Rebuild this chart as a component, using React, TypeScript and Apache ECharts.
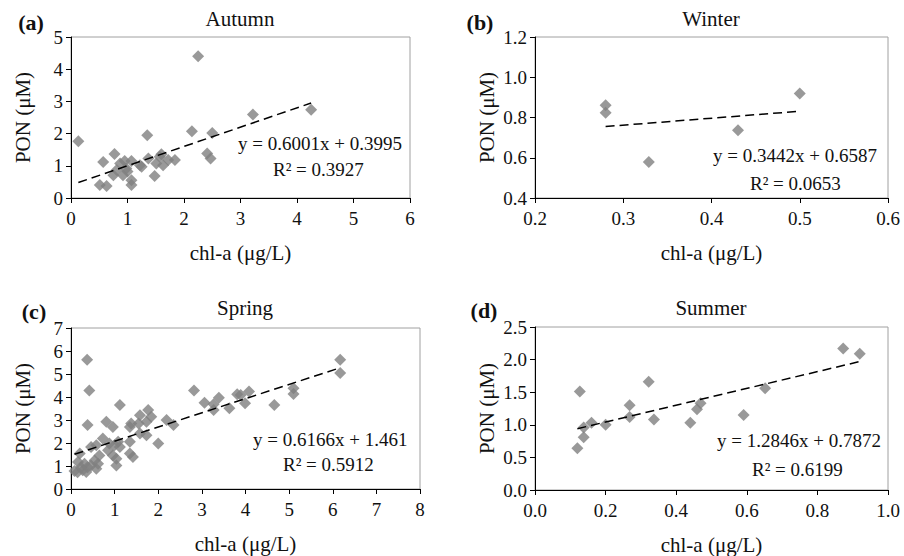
import React, { useEffect, useRef } from "react";
import * as echarts from "echarts";

const FONT = "'Liberation Serif', 'Times New Roman', serif";

// Autumn (a)
const autumnPoints: number[][] = [
  [0.13, 1.76], [0.51, 0.40], [0.57, 1.12], [0.63, 0.37], [0.75, 0.71], [0.77, 1.37],
  [0.81, 0.87], [0.87, 1.07], [0.92, 0.71], [0.95, 1.15], [0.98, 0.92], [1.0, 0.82],
  [1.07, 1.15], [1.07, 0.55], [1.07, 0.4], [1.22, 1.02], [1.25, 0.97], [1.35, 1.95],
  [1.37, 1.23], [1.48, 0.68], [1.51, 1.07], [1.57, 1.28], [1.6, 1.36], [1.63, 1.02],
  [1.72, 1.18], [1.84, 1.18], [2.14, 2.07], [2.25, 4.4], [2.41, 1.38], [2.47, 1.23],
  [2.5, 2.02], [3.22, 2.59], [4.25, 2.74],
];
const autumnTrend: number[][] = [[0.13, 0.48], [4.25, 2.95]];

// Winter (b)
const winterPoints: number[][] = [
  [0.28, 0.861], [0.28, 0.823], [0.329, 0.579], [0.43, 0.737], [0.5, 0.919],
];
const winterTrend: number[][] = [[0.28, 0.755], [0.5, 0.831]];

// Spring (c)
const springPoints: number[][] = [
  [0.08, 0.78], [0.15, 0.73], [0.16, 1.17], [0.2, 1.54], [0.23, 0.95], [0.27, 0.81],
  [0.31, 1.1], [0.35, 0.74], [0.37, 5.62], [0.38, 0.95], [0.38, 2.78], [0.42, 4.28],
  [0.46, 1.02], [0.46, 1.83], [0.54, 1.24], [0.58, 0.88], [0.58, 1.9], [0.62, 1.1],
  [0.65, 1.46], [0.73, 2.2], [0.81, 2.92], [0.85, 1.68], [0.88, 1.98], [0.96, 2.7],
  [0.96, 1.46], [1.0, 1.9], [1.04, 1.31], [1.04, 1.02], [1.08, 2.05], [1.12, 1.83],
  [1.12, 3.65], [1.35, 2.05], [1.35, 2.7], [1.35, 1.54], [1.38, 2.85], [1.42, 1.39],
  [1.55, 2.85], [1.58, 3.21], [1.58, 2.41], [1.73, 2.92], [1.73, 2.34], [1.77, 3.43],
  [1.84, 3.14], [2.0, 1.98], [2.19, 3.0], [2.35, 2.78], [2.82, 4.28], [3.06, 3.75],
  [3.27, 3.68], [3.27, 3.43], [3.39, 3.97], [3.63, 3.51], [3.81, 4.12], [3.89, 4.09],
  [3.99, 3.73], [4.08, 4.24], [4.66, 3.65], [5.1, 4.38], [5.1, 4.13], [6.17, 5.62],
  [6.17, 5.04],
];
const springTrend: number[][] = [[0.08, 1.51], [6.17, 5.27]];

// Summer (d)
const summerPoints: number[][] = [
  [0.12, 0.64], [0.127, 1.51], [0.138, 0.81], [0.138, 0.96], [0.16, 1.03], [0.2, 1.0],
  [0.268, 1.3], [0.268, 1.12], [0.322, 1.66], [0.337, 1.08], [0.44, 1.03], [0.459, 1.24],
  [0.469, 1.33], [0.591, 1.15], [0.652, 1.56], [0.873, 2.17], [0.92, 2.09],
];
const summerTrend: number[][] = [[0.12, 0.94], [0.92, 1.97]];

const titles = ["Autumn", "Winter", "Spring", "Summer"];
const panelLabels = ["(a)", "(b)", "(c)", "(d)"];
const equations = [
  "y = 0.6001x + 0.3995",
  "y = 0.3442x + 0.6587",
  "y = 0.6166x + 1.461",
  "y = 1.2846x + 0.7872",
];
const rSquared = ["R² = 0.3927", "R² = 0.0653", "R² = 0.5912", "R² = 0.6199"];

const xRanges = [
  { min: 0, max: 6, interval: 1, dec: 0 },
  { min: 0.2, max: 0.6, interval: 0.1, dec: 1 },
  { min: 0, max: 8, interval: 1, dec: 0 },
  { min: 0, max: 1, interval: 0.2, dec: 1 },
];
const yRanges = [
  { min: 0, max: 5, interval: 1, dec: 0 },
  { min: 0.4, max: 1.2, interval: 0.2, dec: 1 },
  { min: 0, max: 7, interval: 1, dec: 0 },
  { min: 0, max: 2.5, interval: 0.5, dec: 1 },
];

const grids = [
  { left: 71, top: 37, width: 339, height: 161 },
  { left: 535, top: 37, width: 353, height: 161 },
  { left: 71, top: 328, width: 349, height: 161 },
  { left: 535, top: 327, width: 353, height: 164 },
];

// layout positions for texts
const titlePos = [[240, 19], [711, 19], [245, 308], [711, 308]];
const labelPos = [[31, 22], [480, 22], [34, 311], [484, 310]];
const eqPos = [[238, 143], [713, 155], [253, 439], [717, 440]];
const r2Pos = [[273, 169], [750, 183], [283, 464], [752, 469]];

export default function App() {
  const ref = useRef<HTMLDivElement>(null);
  useEffect(() => {
    if (!ref.current) return;
    const chart = echarts.init(ref.current, undefined, { renderer: "svg" });
    const pts = [autumnPoints, winterPoints, springPoints, summerPoints];
    const trends = [autumnTrend, winterTrend, springTrend, summerTrend];

    const xAxis = xRanges.map((r, i) => ({
      type: "value",
      gridIndex: i,
      min: r.min,
      max: r.max,
      interval: r.interval,
      name: "chl-a (μg/L)",
      nameLocation: "middle",
      nameGap: 44,
      nameTextStyle: { fontFamily: FONT, fontSize: 21, color: "#111" },
      axisLine: { show: true, onZero: false, lineStyle: { color: "#000", width: 1 } },
      axisTick: { show: true, inside: false, length: 5, lineStyle: { color: "#000" } },
      axisLabel: {
        fontFamily: FONT,
        fontSize: 19,
        color: "#111",
        margin: 11,
        formatter: (v: number) => v.toFixed(r.dec),
      },
      splitLine: { show: false },
    }));
    const yAxis = yRanges.map((r, i) => ({
      type: "value",
      gridIndex: i,
      min: r.min,
      max: r.max,
      interval: r.interval,
      name: "PON (μM)",
      nameLocation: "middle",
      nameGap: 38,
      nameTextStyle: { fontFamily: FONT, fontSize: 21, color: "#111" },
      axisLine: { show: true, onZero: false, lineStyle: { color: "#000", width: 1 } },
      axisTick: { show: true, inside: false, length: 5, lineStyle: { color: "#000" } },
      axisLabel: {
        fontFamily: FONT,
        fontSize: 19,
        color: "#111",
        margin: 8,
        formatter: (v: number) => v.toFixed(r.dec),
      },
      splitLine: { show: false },
    }));

    const series: any[] = [];
    pts.forEach((p, i) => {
      series.push({
        type: "scatter",
        xAxisIndex: i,
        yAxisIndex: i,
        data: p,
        symbol: "diamond",
        symbolSize: 12,
        itemStyle: { color: "#808080" },
        z: 3,
      });
      series.push({
        type: "line",
        xAxisIndex: i,
        yAxisIndex: i,
        data: trends[i],
        symbol: "none",
        lineStyle: { color: "#000", width: 1.5, type: [9, 5] },
        z: 4,
      });
    });

    const graphic: any[] = [];
    titles.forEach((t, i) => {
      graphic.push({
        type: "text",
        x: titlePos[i][0],
        y: titlePos[i][1],
        style: {
          text: t,
          font: `21px ${FONT}`,
          fill: "#111",
          textAlign: "center",
          textVerticalAlign: "middle",
        },
      });
      graphic.push({
        type: "text",
        x: labelPos[i][0],
        y: labelPos[i][1],
        style: {
          text: panelLabels[i],
          font: `bold 22px ${FONT}`,
          fill: "#111",
          textAlign: "center",
          textVerticalAlign: "middle",
        },
      });
      graphic.push({
        type: "text",
        x: eqPos[i][0],
        y: eqPos[i][1],
        z: 10,
        style: {
          text: equations[i],
          font: `19px ${FONT}`,
          fill: "#111",
          textAlign: "left",
          textVerticalAlign: "middle",
        },
      });
      graphic.push({
        type: "text",
        x: r2Pos[i][0],
        y: r2Pos[i][1],
        z: 10,
        style: {
          text: rSquared[i],
          font: `19px ${FONT}`,
          fill: "#111",
          textAlign: "left",
          textVerticalAlign: "middle",
        },
      });
    });

    chart.setOption({
      animation: false,
      backgroundColor: "#fff",
      grid: grids.map((g) => ({
        ...g,
        show: true,
        borderColor: "#a0a0a0",
        borderWidth: 1,
        backgroundColor: "transparent",
        containLabel: false,
      })),
      xAxis,
      yAxis,
      series,
      graphic,
    });
    return () => chart.dispose();
  }, []);
  return (
    <div
      ref={ref}
      style={{ position: "fixed", left: 0, top: 0, width: 904, height: 556, background: "#fff" }}
    />
  );
}
